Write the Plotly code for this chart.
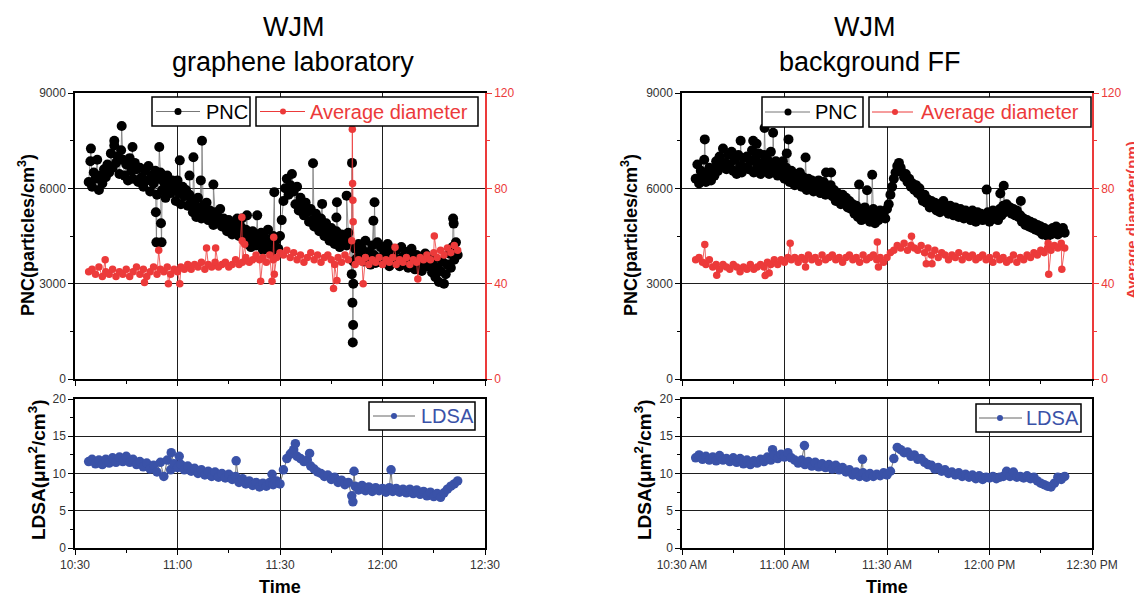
import plotly.graph_objects as go

DAY = "2021-01-01 "
RED = "#ec3a3a"
BLUE = "#3a52a8"
FONT = "Arial, Liberation Sans, sans-serif"

# sampling times: every minute (diameter, LDSA) and every 30 s (PNC), 10:34 to 12:22
BASE_T = [f"{(634 + i) // 60:02d}:{(634 + i) % 60:02d}:00" for i in range(109)]
BASE_T30 = [f"{(38040 + 30 * i) // 3600:02d}:{((38040 + 30 * i) % 3600) // 60:02d}:"
            f"{(30 * i) % 60:02d}" for i in range(217)]

# ---------------- graphene laboratory (left) ----------------
LAB_PNC = [6200, 6850, 6050, 6500, 6300, 6900, 5950, 6400, 6150, 6600,
           6350, 6750, 6500, 7100, 6650, 7350, 6800, 7000, 6450, 7200,
           6900, 6400, 6750, 6250, 6950, 6550, 6300, 6800, 6600, 6200,
           6650, 6350, 6050, 6550, 6250, 6700, 5900, 6400, 6150, 6550,
           5800, 6300, 6500, 5950, 6200, 5700, 6400, 6050, 5850, 6250,
           6000, 5600, 6250, 5850, 5500, 6050, 5750, 5950, 5450, 5800,
           5600, 5250, 5500, 5100, 5700, 5350, 5050, 5450, 5200, 5550,
           5000, 5300, 5150, 4850, 5250, 4950, 5100, 5350, 4800, 5050,
           4900, 4650, 5000, 4750, 4550, 4850, 4700, 5050, 4500, 4800,
           4600, 4350, 4700, 4250, 4500, 4150, 4650, 4400, 4200, 4550,
           4300, 4600, 4050, 4450, 4200, 4700, 4350, 4000, 4500, 4250,
           4400, 4100, 4500, 5000, 5600, 6000, 6300, 5800, 6100, 6450,
           5900, 5500, 6050, 5300, 5700, 5450, 5150, 5550, 5250, 4950,
           5350, 5000, 4800, 5200, 4900, 4650, 5050, 4750, 4500, 4900,
           4600, 4350, 4750, 4500, 4250, 4650, 4400, 4150, 4550, 4300,
           4450, 4200, 4600, 4300, 3300, 3700, 4100, 3800, 4250, 3900,
           4100, 3700, 4350, 3850, 4000, 3600, 4200, 3900, 3650, 4300,
           3800, 4150, 3650, 4000, 3850, 4250, 3550, 3950, 4100, 3700,
           4050, 3750, 3550, 4150, 3850, 3650, 4000, 3500, 3900, 4100,
           3700, 3450, 3900, 3600, 3850, 3400, 3750, 3950, 3550, 3800,
           3600, 3350, 3750, 3200, 3500, 3050, 3400, 3700, 3000, 3300,
           3600, 3950, 3500, 4150, 3750, 4300, 3900]
LAB_PNC_XT = ["10:34:40", "10:41:30", "10:43:40", "10:46:50", "10:53:40", "10:53:50",
              "10:54:40", "10:55:10", "10:55:20", "11:00:40", "11:03:30", "11:04:40",
              "11:06:50", "11:07:10", "11:10:30", "11:18:50", "11:20:20", "11:23:20",
              "11:28:20", "11:39:40", "11:42:20", "11:46:30", "11:46:40", "11:49:30",
              "11:51:05", "11:51:12", "11:51:18", "11:51:24", "11:51:27", "11:57:20",
              "11:57:40", "12:20:40", "12:20:50"]
LAB_PNC_XV = [7250, 7500, 7960, 7300, 5250, 4300, 7300, 4900, 4300, 6880, 6400, 6980,
              6250, 7500, 6120, 5050, 5150, 5150, 5880, 6790, 5510, 5080, 5560, 5770,
              6800, 2400, 1150, 1700, 3000, 4980, 5560, 5050, 4890]

LAB_DIA = [45, 46, 44, 47, 43, 45, 44, 46, 43, 45,
           44, 46, 43, 45, 47, 44, 46, 43, 45, 47,
           44, 46, 45, 47, 44, 46, 45, 47, 46, 48,
           46, 48, 47, 49, 46, 48, 47, 49, 47, 48,
           49, 47, 48, 50, 48, 49, 51, 49, 50, 52,
           50, 51, 49, 52, 50, 51, 53, 52, 54, 51,
           53, 50, 52, 49, 51, 53, 50, 52, 49, 51,
           52, 50, 48, 51, 49, 52, 50, 58, 48, 50,
           49, 51, 48, 50, 49, 51, 48, 50, 49, 51,
           48, 50, 49, 51, 48, 50, 49, 51, 50, 52,
           50, 53, 51, 54, 52, 55, 53, 56, 54]
LAB_DIA_XT = ["10:38:50", "10:50:20", "10:54:30", "10:57:20", "11:00:40", "11:08:30",
              "11:11:10", "11:18:50", "11:18:55", "11:19:40", "11:24:20", "11:27:40",
              "11:28:10", "11:28:20", "11:45:40", "11:46:40", "11:51:10", "11:51:15",
              "11:51:20", "11:51:25", "11:54:20", "12:03:40", "12:10:20", "12:15:10"]
LAB_DIA_XV = [50, 40.5, 54, 40, 40, 55, 55, 67.9, 58, 56.5, 41, 41,
              59.5, 44, 38, 41.3, 104.8, 82, 75, 66, 40, 55.3, 42, 60]

LAB_LDSA = [11.6, 11.9, 11.3, 11.8, 11.2, 11.9, 11.4, 12.1, 11.5, 12.2,
            11.6, 12.3, 11.5, 11.9, 11.2, 11.6, 10.9, 11.4, 10.6, 11.1,
            10.2, 11.5, 9.6, 11.8, 10.5, 11.3, 10.8, 11.2, 10.5, 11.0,
            10.3, 10.7, 10.0, 10.5, 9.8, 10.3, 9.6, 10.2, 9.5, 10.0,
            9.4, 9.9, 9.2, 9.6, 8.8, 9.3, 8.6, 9.0, 8.4, 8.8,
            8.2, 8.7, 8.3, 8.8, 8.5, 9.0, 8.6, 10.5, 12.0, 12.6,
            13.2, 12.3, 12.0, 11.6, 11.8, 11.0, 10.6, 10.2, 10.0, 9.6,
            9.8, 9.2, 9.5, 8.8, 9.1, 8.5, 8.8, 7.0, 8.3, 7.8,
            8.4, 7.7, 8.2, 7.6, 8.1, 7.7, 8.0, 7.5, 8.1, 7.6,
            8.0, 7.5, 7.9, 7.4, 7.9, 7.3, 7.8, 7.2, 7.6, 7.0,
            7.5, 6.9, 7.3, 6.8, 7.4, 7.9, 8.3, 8.6, 9.0]
LAB_LDSA_XT = ["10:58:10", "11:00:30", "11:17:10", "11:27:40", "11:33:30",
               "11:34:30", "11:38:40", "11:51:20", "11:51:40", "12:02:30"]
LAB_LDSA_XV = [12.8, 12.3, 11.7, 9.9, 12.8, 14.0, 12.7, 6.2, 10.3, 10.5]

# ---------------- background FF (right) ----------------
BG_PNC = [6300, 6750, 6150, 6550, 6400, 6900, 6200, 6450, 6650, 6250,
          6600, 6400, 6850, 6550, 7000, 6700, 7250, 6800, 6600, 7050,
          6750, 7150, 6550, 6900, 6450, 7050, 6700, 6500, 6950, 6650,
          7000, 6600, 6850, 7200, 6500, 6950, 6700, 7100, 6450, 6800,
          7050, 6650, 6900, 6450, 7150, 6700, 6550, 6850, 6400, 6700,
          6500, 6850, 6300, 6650, 6450, 6200, 6550, 6350, 6100, 6450,
          6250, 6500, 6050, 6350, 6150, 5950, 6300, 6050, 6250, 5900,
          6150, 5950, 6250, 5850, 6050, 6200, 5800, 6000, 5900, 6100,
          5750, 5950, 5600, 5850, 5650, 5500, 5800, 5550, 5700, 5400,
          5600, 5350, 5500, 5200, 5450, 5100, 5300, 5000, 5250, 5400,
          5050, 5250, 4950, 5200, 5350, 4900, 5150, 5000, 5300, 5100,
          5200, 5050, 5350, 5500, 5800, 6050, 6300, 6500, 6700, 6800,
          6650, 6500, 6350, 6450, 6200, 6300, 6050, 6150, 5950, 6100,
          5850, 6000, 5750, 5600, 5800, 5550, 5650, 5400, 5600, 5450,
          5550, 5300, 5500, 5250, 5450, 5600, 5300, 5400, 5200, 5450,
          5300, 5150, 5400, 5250, 5100, 5350, 5200, 5050, 5300, 5150,
          5250, 5000, 5300, 5100, 4950, 5250, 5050, 5200, 5000, 5150,
          5050, 5250, 4950, 5150, 5300, 5050, 5200, 5000, 5350, 5150,
          5450, 5250, 5500, 5300, 5400, 5200, 5350, 5150, 5300, 5100,
          5150, 4950, 5050, 4850, 5000, 4800, 4950, 4750, 4900, 4700,
          4850, 4650, 4800, 4550, 4750, 4600, 4500, 4700, 4550, 4750,
          4600, 4800, 4550, 4700, 4650, 4750, 4600]
BG_PNC_XT = ["10:36:40", "10:47:10", "10:50:50", "10:51:50", "10:54:10", "10:56:40",
             "11:00:40", "11:01:10", "11:06:10", "11:12:10", "11:13:40", "11:21:50",
             "11:24:10", "11:25:40", "11:59:10", "12:03:10", "12:04:10", "12:09:10"]
BG_PNC_XV = [7540, 7500, 7500, 7400, 7900, 7750, 7100, 7540, 6970, 6500, 6500, 6120,
             5940, 6430, 5960, 5840, 6080, 5600]

BG_DIA = [50, 51, 49, 48, 50, 47, 48, 46, 48, 47,
          46, 48, 47, 45, 47, 46, 48, 46, 47, 48,
          47, 49, 48, 50, 48, 50, 49, 51, 50, 51,
          49, 51, 50, 52, 50, 51, 49, 52, 50, 51,
          52, 50, 51, 49, 51, 52, 50, 51, 49, 52,
          50, 51, 52, 50, 51, 49, 51, 53, 54, 56,
          55, 57, 54, 56, 55, 54, 56, 53, 55, 52,
          54, 51, 53, 52, 50, 52, 51, 53, 50, 52,
          51, 52, 50, 51, 52, 50, 51, 49, 52, 50,
          51, 49, 50, 52, 49, 51, 50, 52, 51, 53,
          52, 54, 53, 55, 54, 56, 55, 57, 55]
BG_DIA_XT = ["10:36:40", "10:40:10", "10:54:20", "10:55:30", "11:01:40", "11:06:10",
             "11:27:10", "11:27:30", "11:37:10", "11:41:30", "11:43:10", "12:17:10",
             "12:17:20", "12:21:10"]
BG_DIA_XV = [56.4, 43.5, 43.4, 44.5, 57, 47, 57.5, 47, 59.9, 48.4, 48.4, 57, 44, 46]

BG_LDSA = [12.1, 12.5, 11.9, 12.3, 11.8, 12.2, 11.7, 12.4, 11.8, 12.0,
           11.6, 12.1, 11.5, 12.0, 11.3, 11.8, 11.2, 11.7, 11.4, 11.9,
           11.6, 12.2, 11.8, 12.5, 12.0, 12.6, 12.2, 12.8, 12.1, 11.8,
           11.4, 11.8, 11.2, 11.6, 11.0, 11.5, 10.9, 11.3, 10.8, 11.2,
           10.6, 11.1, 10.5, 10.8, 10.2, 10.5, 9.8, 10.2, 9.6, 10.1,
           9.5, 10.0, 9.6, 9.9, 9.7, 10.1, 9.8, 10.3, 12.0, 13.5,
           13.2, 12.8, 12.9, 12.3, 12.5, 11.9, 12.0, 11.5, 11.2, 11.1,
           10.6, 10.8, 10.3, 10.5, 10.0, 10.2, 9.8, 10.1, 9.6, 9.9,
           9.5, 9.8, 9.3, 9.7, 9.2, 9.5, 9.4, 9.6, 9.3, 9.5,
           9.6, 10.3, 9.6, 10.2, 9.5, 9.6, 9.4, 9.7, 9.3, 9.5,
           9.0, 8.7, 8.5, 8.3, 8.2, 8.7, 9.5, 9.2, 9.6]
BG_LDSA_XT = ["10:56:30", "11:05:50", "11:22:50"]
BG_LDSA_XV = [13.2, 13.75, 11.9]

TITLES_LEFT = ["WJM", "graphene laboratory"]
TITLES_RIGHT = ["WJM", "background FF"]
SERIES_NAMES = ["PNC", "Average diameter", "LDSA"]


def merged(base_t, base_v, extra_t, extra_v):
    pts = sorted(zip(base_t + extra_t, base_v + extra_v))
    return [DAY + p[0] for p in pts], [p[1] for p in pts]


# the page has an 8px body margin, so the figure starts 8px in from the window corner
OFF = 8
W, H = 1142, 596


def px(x):
    return (x - OFF) / W


def py(y):
    return 1 - (y - OFF) / H


fig = go.Figure()


def add(base_t, vals, xt, xv, xa, ya, name, mcol, msize, lcol):
    x, y = merged(base_t, vals, xt, xv)
    fig.add_trace(go.Scatter(
        x=x, y=y, mode="lines+markers", name=name, xaxis=xa, yaxis=ya,
        line=dict(color=lcol, width=0.8),
        marker=dict(color=mcol, size=msize, line=dict(width=0)),
        showlegend=False))


add(BASE_T30, LAB_PNC, LAB_PNC_XT, LAB_PNC_XV, "x", "y", SERIES_NAMES[0], "black", 10, "#777777")
add(BASE_T, LAB_DIA, LAB_DIA_XT, LAB_DIA_XV, "x", "y2", SERIES_NAMES[1], RED, 7.5, RED)
add(BASE_T, LAB_LDSA, LAB_LDSA_XT, LAB_LDSA_XV, "x2", "y3", SERIES_NAMES[2], BLUE, 9.5, "#555555")
add(BASE_T30, BG_PNC, BG_PNC_XT, BG_PNC_XV, "x3", "y4", SERIES_NAMES[0], "black", 10, "#777777")
add(BASE_T, BG_DIA, BG_DIA_XT, BG_DIA_XV, "x3", "y5", SERIES_NAMES[1], RED, 7.5, RED)
add(BASE_T, BG_LDSA, BG_LDSA_XT, BG_LDSA_XV, "x4", "y6", SERIES_NAMES[2], BLUE, 9.5, "#555555")

GRID = "#1e1e1e"
TICKFONT = dict(family=FONT, size=12, color="#333333")


def xax(dom, anchor, labels, fmt):
    return dict(
        domain=dom, anchor=anchor, type="date", automargin=False,
        range=[DAY + "10:30:00", DAY + "12:30:00"],
        tick0=DAY + "10:30:00", dtick=1800000, tickformat=fmt,
        showticklabels=labels, ticks="outside", ticklen=5, tickwidth=1.2,
        tickcolor="black",
        minor=dict(dtick=900000, tick0=DAY + "10:30:00", ticks="outside",
                   ticklen=3, tickcolor="black", showgrid=False),
        showgrid=True, gridcolor=GRID, gridwidth=1.2,
        showline=True, linecolor="black", linewidth=1.5, mirror=True,
        zeroline=False, tickfont=TICKFONT, fixedrange=True)


def yax(dom, anchor, rng, dt, mdt, mirror):
    return dict(
        domain=dom, anchor=anchor, range=rng, tick0=0, dtick=dt, automargin=False,
        ticks="outside", ticklen=5, tickwidth=1.2, tickcolor="black",
        minor=dict(dtick=mdt, ticks="outside", ticklen=3, tickcolor="black",
                   showgrid=False),
        showgrid=True, gridcolor=GRID, gridwidth=1.2,
        showline=True, linecolor="black", linewidth=1.5, mirror=mirror,
        zeroline=False, tickfont=TICKFONT, fixedrange=True)


def yred(over, anchor):
    return dict(
        overlaying=over, anchor=anchor, side="right", range=[0, 120], tick0=0,
        dtick=40, ticks="outside", ticklen=5, tickwidth=1.2, tickcolor=RED,
        automargin=False,
        minor=dict(dtick=20, ticks="outside", ticklen=3, tickcolor=RED, showgrid=False),
        showgrid=False, showline=True, linecolor=RED, linewidth=1.5,
        zeroline=False, tickfont=dict(family=FONT, size=12, color=RED), fixedrange=True)


LX = [px(75), px(485)]
RX = [px(682), px(1092)]
TOP = [py(379), py(93)]
BOT = [py(548), py(399)]

fig.update_layout(
    xaxis=xax(LX, "y", False, "%H:%M"),
    yaxis=yax(TOP, "x", [0, 9000], 3000, 1500, False),
    yaxis2=yred("y", "x"),
    xaxis2=xax(LX, "y3", True, "%H:%M"),
    yaxis3=yax(BOT, "x2", [0, 20], 5, 2.5, True),
    xaxis3=xax(RX, "y4", False, "%I:%M %p"),
    yaxis4=yax(TOP, "x3", [0, 9000], 3000, 1500, False),
    yaxis5=yred("y4", "x3"),
    xaxis4=xax(RX, "y6", True, "%I:%M %p"),
    yaxis6=yax(BOT, "x4", [0, 20], 5, 2.5, True),
)

ann = []
shapes = []


def text(x, y, s, size, color="black", angle=0, anchor="center"):
    ann.append(dict(x=px(x), y=py(y), xref="paper", yref="paper", text=s,
                    showarrow=False, textangle=angle, xanchor=anchor,
                    yanchor="middle", font=dict(family=FONT, size=size, color=color)))


def legend_box(x0, x1, y0, y1, lx0, lx1, mx, mcol, msize, lcol, label, tx, tcol):
    yc = (y0 + y1) / 2
    shapes.append(dict(type="rect", xref="paper", yref="paper",
                       x0=px(x0), x1=px(x1), y0=py(y1), y1=py(y0),
                       line=dict(color="black", width=1.5), fillcolor="white",
                       layer="above"))
    shapes.append(dict(type="line", xref="paper", yref="paper",
                       x0=px(lx0), x1=px(lx1), y0=py(yc), y1=py(yc),
                       line=dict(color=lcol, width=1), layer="above"))
    r = msize / 2
    shapes.append(dict(type="circle", xref="paper", yref="paper",
                       x0=px(mx - r), x1=px(mx + r), y0=py(yc + r), y1=py(yc - r),
                       line=dict(color=mcol, width=0), fillcolor=mcol, layer="above"))
    text(tx, yc, label, 20, color=tcol, anchor="left")


legend_box(152, 250, 97, 126, 156, 200, 178, "black", 7, "#777777", SERIES_NAMES[0], 204, "black")
legend_box(256, 478, 97, 126, 260, 305, 283, RED, 6, RED, SERIES_NAMES[1], 308, RED)
legend_box(369, 475, 402, 430, 373, 415, 394, BLUE, 6, "#666666", SERIES_NAMES[2], 419, BLUE)
legend_box(762, 863, 97, 127, 765, 810, 788, "black", 7, "#777777", SERIES_NAMES[0], 813, "black")
legend_box(869, 1091, 97, 127, 872, 913, 895, RED, 6, RED, SERIES_NAMES[1], 919, RED)
legend_box(976, 1081, 404, 432, 979, 1022, 1000, BLUE, 6, "#666666", SERIES_NAMES[2], 1024, BLUE)

text(293, 27, TITLES_LEFT[0], 27)
text(293, 62, TITLES_LEFT[1], 27)
text(864, 27, TITLES_RIGHT[0], 27)
text(870, 62, TITLES_RIGHT[1], 27)
text(26, 235, "<b>PNC(particles/cm<sup>3</sup>)</b>", 18, angle=-90)
text(37, 470, "<b>LDSA(μm<sup>2</sup>/cm<sup>3</sup>)</b>", 19, angle=-90)
text(280, 587, "<b>Time</b>", 18)
text(629, 235, "<b>PNC(particles/cm<sup>3</sup>)</b>", 18, angle=-90)
text(643, 470, "<b>LDSA(μm<sup>2</sup>/cm<sup>3</sup>)</b>", 19, angle=-90)
text(887, 587, "<b>Time</b>", 18)
text(1131, 220, "<b>Average diameter(nm)</b>", 15, color=RED, angle=-90)

fig.update_layout(
    annotations=ann, shapes=shapes, width=W, height=H,
    margin=dict(l=0, r=0, t=0, b=0, pad=0, autoexpand=False),
    paper_bgcolor="white", plot_bgcolor="white",
    font=dict(family=FONT), showlegend=False,
    hovermode=False,
)

fig.write_html("out.html", include_plotlyjs=True, config={"displayModeBar": False})
